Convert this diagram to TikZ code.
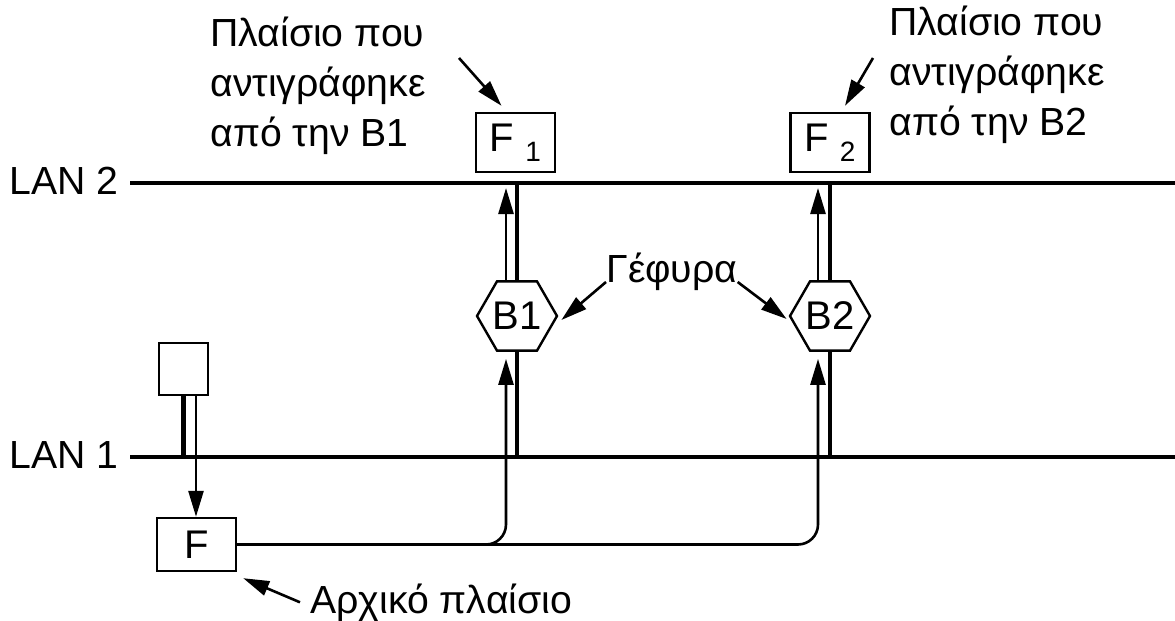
\documentclass[tikz,border=0pt]{standalone}
\usepackage{fontspec}
\setmainfont{Liberation Sans}
\usetikzlibrary{shapes.geometric,arrows.meta}
\begin{document}
\begin{tikzpicture}[x=0.5pt,y=-0.5pt,
  lan/.style={line width=2.4pt},
  stem/.style={line width=2.4pt},
  flow/.style={line width=1.3pt,-{Triangle[length=13pt,width=7.5pt]}},
  box/.style={draw,line width=1.2pt,inner sep=0pt,font=\fontsize{20}{24}\selectfont},
  bridge/.style={draw,regular polygon,regular polygon sides=6,minimum size=40pt,inner sep=0pt,line width=1.2pt,font=\fontsize{20}{24}\selectfont},
  lbl/.style={inner sep=0pt,font=\fontsize{19.6}{24.8}\selectfont,align=left},
]
\useasboundingbox (0,0) rectangle (1175,621);
% LAN lines
\coordinate (L2a) at (130,183); \coordinate (L2b) at (1175,183);
\coordinate (L1a) at (130,457); \coordinate (L1b) at (1175,457);
\draw[lan] (L2a) -- (L2b);
\draw[lan] (L1a) -- (L1b);
\node[lbl,anchor=base east] (lan2) at (119,194) {LAN 2};
\node[lbl,anchor=base east] (lan1) at (119,468) {LAN 1};
% bridges
\node[bridge] (B1) at (517,316) {B1};
\node[bridge] (B2) at (830,316) {B2};
\draw[stem] (B1.north) -- (B1.north |- L2a);
\draw[stem] (B1.south) -- (B1.south |- L1a);
\draw[stem] (B2.north) -- (B2.north |- L2a);
\draw[stem] (B2.south) -- (B2.south |- L1a);
\draw[flow,shorten >=2.5pt] ([xshift=-5.5pt]B1.north) -- ([xshift=-5.5pt]B1.north |- L2a);
\draw[flow,shorten >=2.5pt] ([xshift=-6pt]B2.north) -- ([xshift=-6pt]B2.north |- L2a);
% copied frames
\node[box,minimum width=39.5pt,minimum height=29.5pt] (F1) at (515.5,142.5) {F \raisebox{-5pt}{\fontsize{14}{14}\selectfont 1}};
\node[box,minimum width=39.5pt,minimum height=29.5pt] (F2) at (830,142.5) {F \raisebox{-5pt}{\fontsize{14}{14}\selectfont 2}};
% station and original frame
\node[box,minimum width=24.5pt,minimum height=26pt] (S) at (183.5,369) {};
\node[box,minimum width=39.5pt,minimum height=26.5pt] (F) at (196.5,544.5) {F};
\draw[stem] (S.south) -- (S.south |- L1a);
\draw[flow] ([xshift=6.25pt]S.south) -- ([xshift=6.25pt]S.south |- F.north);
% paths to bridges
\draw[flow,rounded corners=10pt] (F.east) -| ([xshift=-5.5pt,yshift=-3.5pt]B1.south);
\draw[flow,rounded corners=10pt] (F.east) -| ([xshift=-6pt,yshift=-3.5pt]B2.south);
% labels
\node[lbl,anchor=base west] (G) at (606,282) {Γέφυρα};
\draw[flow] (G.base west) -- ([xshift=1.5pt,yshift=-2pt]B1.east);
\draw[flow] (G.base east) -- ([xshift=-1pt,yshift=-1.5pt]B2.west);
\node[lbl,anchor=north west] (T1) at (210,17) {Πλαίσιο που\\αντιγράφηκε\\από την B1};
\node[lbl,anchor=north west] (T2) at (889,6) {Πλαίσιο που\\αντιγράφηκε\\από την B2};
\coordinate (a1) at (459,58);
\coordinate (a2) at (873,58);
\draw[flow] (a1) -- ([xshift=-7pt,yshift=3pt]F1.north);
\draw[flow] (a2) -- ([xshift=7.5pt,yshift=3pt]F2.north);
\node[lbl,anchor=base west] (A) at (310,613) {Αρχικό πλαίσιο};
\draw[flow] ([xshift=-5pt]A.west) -- ([xshift=3pt,yshift=-3pt]F.south east);
\end{tikzpicture}
\end{document}
